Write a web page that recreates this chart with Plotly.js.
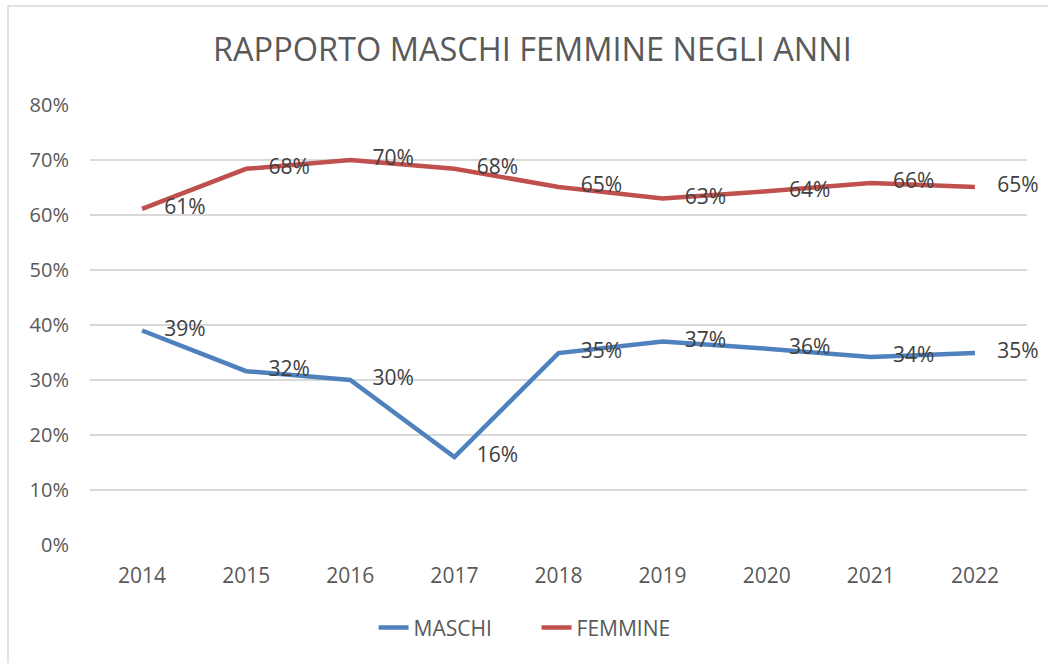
<!DOCTYPE html>
<html>
<head>
<meta charset="utf-8">
<script src="https://cdn.plot.ly/plotly-3.0.1.min.js"></script>
<style>
html,body{margin:0;padding:0;background:#fff;}
#chart{width:1048px;height:663px;}
</style>
</head>
<body>
<div id="chart"></div>
<script>
const years = ['2014','2015','2016','2017','2018','2019','2020','2021','2022'];
const maschi = [0.39, 0.316, 0.30, 0.16, 0.349, 0.37, 0.357, 0.342, 0.349];
const femmine = [0.611, 0.684, 0.70, 0.684, 0.651, 0.63, 0.643, 0.658, 0.651];
const yTicks = [0, 0.1, 0.2, 0.3, 0.4, 0.5, 0.6, 0.7, 0.8];
const yTickText = ['0%','10%','20%','30%','40%','50%','60%','70%','80%'];

const blue = '#4F81BD';
const red = '#C0504D';
const fnt = '"Open Sans", "Liberation Sans", sans-serif';
const pct = v => Math.round(v * 100) + '%';

const traces = [
  {x: years, y: maschi, name: 'MASCHI', mode: 'lines', type: 'scatter',
   line: {color: blue, width: 4.5}, hoverinfo: 'skip'},
  {x: years, y: femmine, name: 'FEMMINE', mode: 'lines', type: 'scatter',
   line: {color: red, width: 4.5}, hoverinfo: 'skip'},
  {x: years, y: maschi, mode: 'markers+text', type: 'scatter', showlegend: false, cliponaxis: false,
   text: maschi.map(pct), textposition: 'middle right',
   marker: {size: 34, opacity: 0}, textfont: {family: fnt, size: 21, color: '#404040'}, hoverinfo: 'skip'},
  {x: years, y: femmine, mode: 'markers+text', type: 'scatter', showlegend: false, cliponaxis: false,
   text: femmine.map(pct), textposition: 'middle right',
   marker: {size: 34, opacity: 0}, textfont: {family: fnt, size: 21, color: '#404040'}, hoverinfo: 'skip'}
];

const layout = {
  width: 1048, height: 663,
  margin: {l: 90, r: 21, t: 105, b: 118},
  paper_bgcolor: '#ffffff', plot_bgcolor: '#ffffff',
  font: {family: fnt, color: '#595959', size: 21},
  title: {text: 'RAPPORTO MASCHI FEMMINE NEGLI ANNI', font: {family: fnt, size: 32.5, color: '#595959'},
          x: 0.508, xref: 'container', xanchor: 'center', y: 0.9246, yref: 'container', yanchor: 'middle'},
  xaxis: {type: 'category', range: [-0.5, 8.5], showgrid: false, showline: false, zeroline: false, ticks: '',
          tickfont: {family: fnt, size: 21, color: '#595959'}, ticklabelstandoff: 16, fixedrange: true},
  yaxis: {range: [0, 0.8], tickvals: yTicks, ticktext: yTickText, showgrid: true, gridcolor: '#d9d9d9', gridwidth: 1.3,
          zeroline: false, showline: false, ticks: '', tickfont: {family: fnt, size: 20, color: '#595959'},
          ticklabelstandoff: 20, fixedrange: true},
  legend: {orientation: 'h', x: 0.512, xref: 'container', xanchor: 'center', y: 0.053, yref: 'container', yanchor: 'middle',
           font: {family: fnt, size: 21, color: '#595959'}, bgcolor: 'rgba(0,0,0,0)',
           entrywidth: 118, entrywidthmode: 'pixels'},
  shapes: [{type: 'rect', xref: 'paper', yref: 'paper', x0: -0.0875, x1: 1.1, y0: -0.4, y1: 1.225,
            line: {color: '#d9d9d9', width: 1.5}, fillcolor: 'rgba(0,0,0,0)', layer: 'below'}],
  showlegend: true
};

Plotly.newPlot('chart', traces, layout, {displayModeBar: false, staticPlot: true});
</script>
</body>
</html>
